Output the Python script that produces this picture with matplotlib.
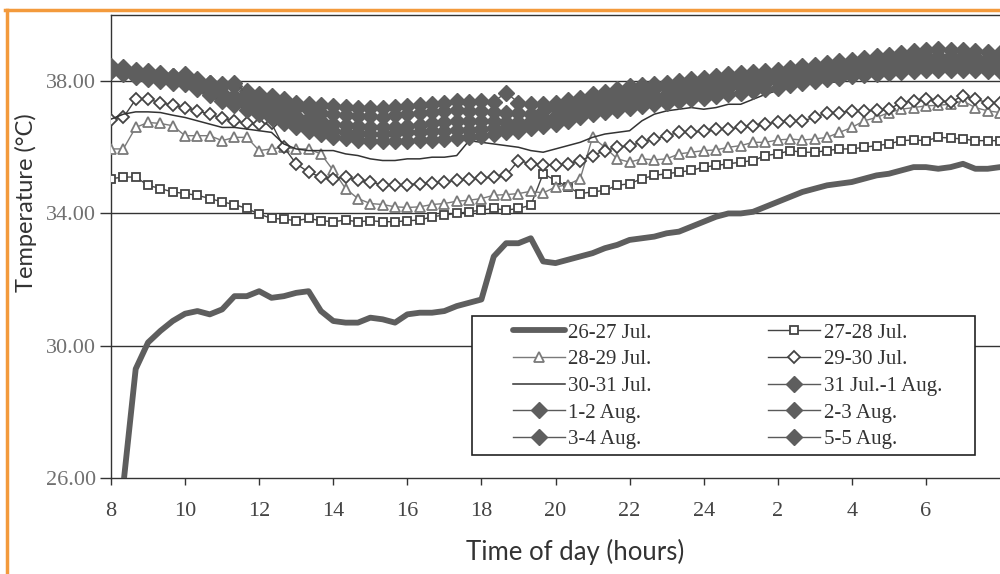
import numpy as np
import matplotlib
matplotlib.use("Agg")
import matplotlib.pyplot as plt
from matplotlib.lines import Line2D
from matplotlib.patches import Rectangle

nan = np.nan
# sample times, every 20 minutes from 08:00 to 08:00 next day
hours = np.linspace(8, 32, 73)

# one row per hour: values at :00, :20, :40
jul26_27 = [nan, 25.80, 29.30,  30.10, 30.45, 30.75,  30.97, 31.05, 30.95,  31.10, 31.50, 31.50,
            31.65, 31.45, 31.50,  31.60, 31.65, 31.05,  30.75, 30.70, 30.70,  30.85, 30.80, 30.70,
            30.95, 31.00, 31.00,  31.05, 31.20, 31.30,  31.40, 32.70, 33.10,  33.10, 33.25, 32.55,
            32.50, 32.60, 32.70,  32.80, 32.95, 33.05,  33.20, 33.25, 33.30,  33.40, 33.45, 33.60,
            33.75, 33.90, 34.00,  34.00, 34.05, 34.20,  34.35, 34.50, 34.65,  34.75, 34.85, 34.90,
            34.95, 35.05, 35.15,  35.20, 35.30, 35.40,  35.40, 35.35, 35.40,  35.50, 35.35, 35.35,
            35.40]
jul27_28 = [35.05, 35.10, 35.10,  34.85, 34.75, 34.65,  34.60, 34.55, 34.45,  34.35, 34.27, 34.15,
            33.98, 33.85, 33.83,  33.78, 33.85, 33.78,  33.75, 33.80, 33.75,  33.78, 33.75, 33.75,
            33.78, 33.80, 33.90,  33.95, 34.00, 34.05,  34.10, 34.15, 34.10,  34.15, 34.25, 35.20,
            35.00, 34.80, 34.60,  34.65, 34.70, 34.85,  34.90, 35.05, 35.15,  35.20, 35.25, 35.30,
            35.40, 35.45, 35.50,  35.55, 35.60, 35.75,  35.80, 35.90, 35.85,  35.85, 35.90, 35.95,
            35.95, 36.00, 36.05,  36.10, 36.20, 36.22,  36.20, 36.30, 36.28,  36.25, 36.20, 36.20,
            36.20]
jul28_29 = [35.95, 35.95, 36.60,  36.75, 36.72, 36.65,  36.35, 36.35, 36.35,  36.20, 36.30, 36.30,
            35.90, 35.95, 36.00,  35.95, 35.95, 35.80,  35.30, 34.75, 34.45,  34.30, 34.27, 34.20,
            34.18, 34.20, 34.27,  34.30, 34.37, 34.40,  34.45, 34.55, 34.57,  34.60, 34.67, 34.62,
            34.80, 34.87, 35.05,  36.30, 36.00, 35.65,  35.55, 35.65, 35.62,  35.65, 35.80, 35.85,
            35.90, 35.92, 36.00,  36.05, 36.15, 36.15,  36.22, 36.25, 36.22,  36.25, 36.30, 36.45,
            36.60, 36.80, 36.90,  37.05, 37.15, 37.20,  37.25, 37.27, 37.30,  37.40, 37.20, 37.10,
            37.05]
jul29_30 = [36.83, 36.90, 37.45,  37.45, 37.35, 37.27,  37.20, 37.10, 37.00,  36.88, 36.80, 36.72,
            36.70, 36.72, 36.00,  35.50, 35.25, 35.10,  35.05, 35.10, 35.00,  34.95, 34.87, 34.87,
            34.87, 34.90, 34.92,  34.95, 35.00, 35.03,  35.07, 35.10, 35.15,  35.60, 35.50, 35.47,
            35.47, 35.50, 35.60,  35.75, 35.90, 36.00,  36.05, 36.15, 36.25,  36.35, 36.45, 36.45,
            36.50, 36.55, 36.55,  36.60, 36.65, 36.70,  36.77, 36.80, 36.80,  36.90, 37.05, 37.05,
            37.10, 37.10, 37.12,  37.15, 37.35, 37.40,  37.45, 37.40, 37.37,  37.55, 37.45, 37.35,
            37.35]
jul30_31 = [36.85, 37.00, 37.07,  37.07, 37.05, 36.97,  36.90, 36.80, 36.70,  36.60, 36.60, 36.55,
            36.50, 36.45, 36.10,  35.95, 35.90, 35.90,  35.90, 35.80, 35.75,  35.65, 35.60, 35.60,
            35.65, 35.65, 35.70,  35.70, 35.75, 36.20,  36.15, 36.10, 36.05,  36.00, 35.90, 35.85,
            35.95, 36.05, 36.15,  36.30, 36.40, 36.45,  36.50, 36.80, 37.00,  37.10, 37.15, 37.20,
            37.15, 37.20, 37.30,  37.30, 37.45, 37.60,  37.72, 37.80, 37.88,  37.95, 37.97, 37.97,
            38.10, 38.17, 38.20,  38.28, 38.35, 38.45,  38.55, 38.60, 38.65,  38.70, 38.70, 38.70,
            38.70]
jul31_aug1 = [38.45, 38.42, 38.35,  38.30, 38.25, 38.15,  38.20, 38.05, 37.95,  37.90, 37.85, 37.70,
              37.60, 37.55, 37.45,  37.35, 37.30, 37.28,  37.25, 37.22, 37.20,  37.20, 37.18, 37.22,
              37.25, 37.28, 37.32,  37.35, 37.40, 37.38,  37.40, 37.38, 37.65,  37.35, 37.32, 37.30,
              37.35, 37.42, 37.50,  37.60, 37.68, 37.75,  37.85, 37.88, 37.92,  37.95, 38.00, 38.05,
              38.10, 38.15, 38.20,  38.25, 38.28, 38.32,  38.35, 38.40, 38.45,  38.50, 38.55, 38.60,
              38.65, 38.70, 38.75,  38.80, 38.85, 38.90,  38.95, 38.97, 38.95,  38.95, 38.92, 38.88,
              38.85]
aug1_2 = [38.40, 38.38, 38.30,  38.25, 38.20, 38.15,  38.10, 38.00, 37.95,  37.85, 37.95, 37.60,
          37.50, 37.42, 37.30,  37.20, 37.12, 37.05,  37.00, 36.98, 36.95,  36.95, 36.93, 36.97,
          37.00, 37.03, 37.07,  37.10, 37.12, 37.10,  37.10, 37.08, 37.05,  37.05, 37.02, 37.10,
          37.20, 37.28, 37.35,  37.45, 37.52, 37.58,  37.65, 37.70, 37.75,  37.80, 37.85, 37.90,
          37.95, 38.00, 38.05,  38.10, 38.15, 38.20,  38.25, 38.30, 38.35,  38.40, 38.43, 38.47,
          38.50, 38.55, 38.60,  38.65, 38.68, 38.72,  38.75, 38.77, 38.75,  38.75, 38.73, 38.70,
          38.70]
aug2_3 = [38.35, 38.30, 38.22,  38.15, 38.10, 38.05,  38.00, 37.88, 37.78,  37.65, 37.55, 37.42,
          37.30, 37.18, 37.05,  36.95, 36.88, 36.78,  36.70, 36.67, 36.63,  36.60, 36.60, 36.62,
          36.65, 36.68, 36.72,  36.75, 36.78, 36.80,  36.80, 36.78, 36.77,  36.75, 36.80, 36.88,
          36.95, 37.05, 37.15,  37.25, 37.32, 37.40,  37.45, 37.50, 37.55,  37.60, 37.67, 37.73,
          37.80, 37.85, 37.90,  37.95, 38.00, 38.05,  38.10, 38.15, 38.20,  38.25, 38.30, 38.35,
          38.40, 38.43, 38.47,  38.50, 38.53, 38.57,  38.60, 38.62, 38.60,  38.60, 38.58, 38.55,
          38.55]
aug3_4 = [38.30, 38.25, 38.17,  38.10, 38.05, 38.00,  37.95, 37.80, 37.65,  37.50, 37.38, 37.27,
          37.15, 37.03, 36.92,  36.80, 36.70, 36.60,  36.50, 36.45, 36.42,  36.40, 36.40, 36.43,
          36.45, 36.47, 36.48,  36.50, 36.52, 36.53,  36.55, 36.57, 36.58,  36.60, 36.67, 36.73,
          36.80, 36.90, 37.00,  37.10, 37.18, 37.27,  37.35, 37.40, 37.45,  37.50, 37.55, 37.60,
          37.65, 37.72, 37.78,  37.85, 37.90, 37.95,  38.00, 38.05, 38.10,  38.15, 38.18, 38.22,
          38.25, 38.28, 38.32,  38.35, 38.38, 38.42,  38.45, 38.47, 38.45,  38.45, 38.43, 38.42,
          38.40]
aug5_5 = [38.30, 38.20, 38.12,  38.05, 38.00, 37.95,  37.90, 37.75, 37.58,  37.40, 37.27, 37.13,
          37.00, 36.87, 36.73,  36.60, 36.50, 36.40,  36.30, 36.27, 36.23,  36.20, 36.20, 36.20,
          36.20, 36.22, 36.23,  36.25, 36.28, 36.32,  36.35, 36.40, 36.45,  36.50, 36.57, 36.63,
          36.70, 36.80, 36.90,  37.00, 37.07, 37.13,  37.20, 37.25, 37.30,  37.35, 37.40, 37.45,
          37.50, 37.55, 37.60,  37.65, 37.70, 37.75,  37.80, 37.87, 37.93,  38.00, 38.05, 38.10,
          38.15, 38.18, 38.22,  38.25, 38.28, 38.32,  38.35, 38.35, 38.35,  38.35, 38.33, 38.32,
          38.30]

x_ticks = [8, 10, 12, 14, 16, 18, 20, 22, 24, 26, 28, 30]
x_ticklabels = ['8', '10', '12', '14', '16', '18', '20', '22', '24', '2', '4', '6']
y_ticks = [26, 30, 34, 38]
y_ticklabels = ['26.00', '30.00', '34.00', '38.00']

serif = 'Liberation Serif'
sans = 'Lato'

fig = plt.figure(figsize=(10, 5.74), dpi=100)
ax = fig.add_axes([0.111, 0.167, 0.889, 0.807])

for v in [30, 34, 38]:
    ax.axhline(v, color='#333333', lw=1.0, zorder=1)

h_thick, = ax.plot(hours, jul26_27, color='#5e5e5e', lw=4.2, solid_capstyle='round', zorder=3,
                   label='26-27 Jul.')
h_sq, = ax.plot(hours, jul27_28, color='#444444', lw=1.0, marker='s', ms=6, mfc='white',
                mec='#444444', mew=1.3, zorder=3, label='27-28 Jul.')
h_tri, = ax.plot(hours, jul28_29, color='#7a7a7a', lw=1.0, marker='^', ms=7.5, mfc='white',
                 mec='#7a7a7a', mew=1.3, zorder=3, label='28-29 Jul.')
h_od, = ax.plot(hours, jul29_30, color='#444444', lw=1.0, marker='D', ms=6.5, mfc='white',
                mec='#444444', mew=1.3, zorder=3, label='29-30 Jul.')
h_thin, = ax.plot(hours, jul30_31, color='#333333', lw=1.1, zorder=3, label='30-31 Jul.')

filled = []
for vals, lab in [(jul31_aug1, '31 Jul.-1 Aug.'), (aug1_2, '1-2 Aug.'), (aug2_3, '2-3 Aug.'),
                  (aug3_4, '3-4 Aug.'), (aug5_5, '5-5 Aug.')]:
    h, = ax.plot(hours, vals, color='#5a5a5a', lw=1.0, marker='D', ms=8.5, mfc='#5e5e5e',
                 mec='#5e5e5e', zorder=4, label=lab)
    filled.append(h)

ax.set_xlim(8, 32)
ax.set_ylim(26, 40)
ax.set_xticks(x_ticks)
ax.set_xticklabels(x_ticklabels, fontfamily=serif, fontsize=16, color='#444444')
ax.set_yticks(y_ticks)
ax.set_yticklabels(y_ticklabels, fontfamily=serif, fontsize=16, color='#707070')
ax.tick_params(axis='y', direction='out', length=8, width=1, color='#333333', pad=3)
ax.tick_params(axis='x', direction='out', length=5, width=1, color='#333333', pad=12)

for s in ['left', 'bottom', 'top']:
    ax.spines[s].set_color('#333333')
    ax.spines[s].set_linewidth(1.0)
ax.spines['right'].set_visible(False)

ax.set_xlabel('Time of day (hours)', fontfamily=sans, fontsize=18.5, color='#333333')
ax.set_ylabel('Temperature (°C)', fontfamily=sans, fontsize=17, color='#333333')
ax.xaxis.set_label_coords(0.522, -0.132)
ax.yaxis.set_label_coords(-0.083, 0.594)

# legend box drawn separately, entries filled row by row
fig.add_artist(Rectangle((0.472, 0.2073), 0.503, 0.2422, transform=fig.transFigure,
                         facecolor='white', edgecolor='#222222', lw=1.2, zorder=5))
handles = [h_thick, h_tri, h_thin, filled[1], filled[3],
           h_sq, h_od, filled[0], filled[2], filled[4]]
leg = fig.legend(handles=handles, labels=[h.get_label() for h in handles], ncol=2,
                 loc='upper left', bbox_to_anchor=(0.513, 0.437), numpoints=1,
                 prop={'family': serif, 'size': 15}, frameon=False,
                 handlelength=2.5, handletextpad=0.15, columnspacing=5.6,
                 labelspacing=0.34, borderpad=0, borderaxespad=0)
leg.set_zorder(6)
for t in leg.get_texts():
    t.set_color('#333333')

# orange page frame
fig.add_artist(Line2D([0.005, 1.0], [0.982, 0.982], transform=fig.transFigure,
                      color='#f39a3c', lw=2.5))
fig.add_artist(Line2D([0.0065, 0.0065], [0.0, 0.982], transform=fig.transFigure,
                      color='#f39a3c', lw=2.5))

fig.savefig('out.png', dpi=100)
